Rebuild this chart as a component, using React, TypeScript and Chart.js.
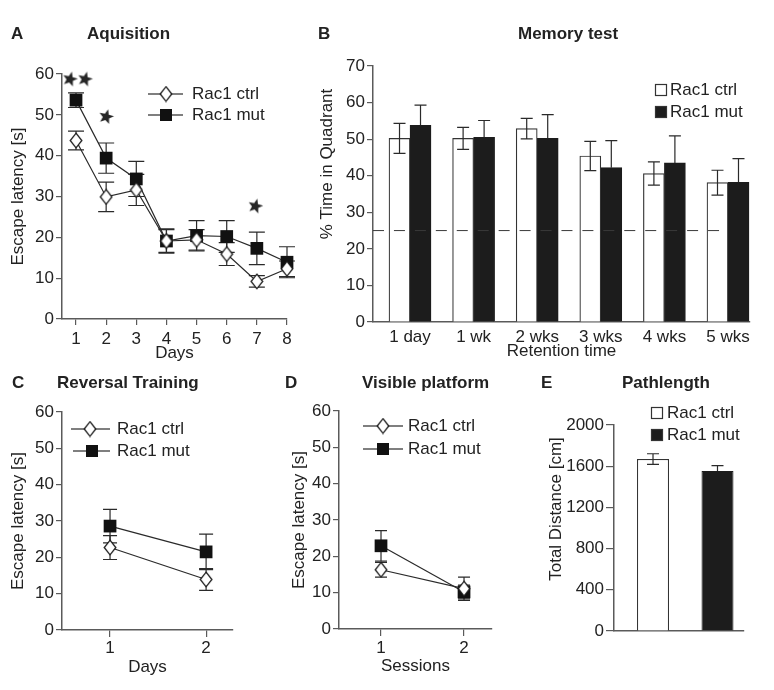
import React, { useEffect, useRef } from 'react';
import { Chart, registerables } from 'chart.js';
Chart.register(...registerables);

const FONT = '"Liberation Sans", Arial, Helvetica, sans-serif';
const INK = '#222';
const AXIS = '#5a5a5a';
const FS = 17;

// ---------------- data ----------------
const seriesNames = ['Rac1 ctrl', 'Rac1 mut'];

// A: Aquisition
const aDays = [1, 2, 3, 4, 5, 6, 7, 8];
const aCtrl = [43.7, 29.9, 31.6, 19.1, 19.4, 15.9, 9.2, 12.3];
const aCtrlErr = [2.3, 3.6, 3.8, 2.8, 2.5, 2.8, 1.4, 1.9];
const aMut = [53.6, 39.4, 34.3, 19.1, 20.4, 20.2, 17.3, 13.9];
const aMutErr = [1.8, 3.7, 4.3, 3.0, 3.7, 3.9, 4.0, 3.8];
const aStarX = [0.8, 1.3, 2, 6.95];
const aStarY = [58.8, 58.8, 49.6, 27.7];
const aYTicks = [0, 10, 20, 30, 40, 50, 60];

// B: Memory test
const bLabels = ['1 day', '1 wk', '2 wks', '3 wks', '4 wks', '5 wks'];
const bCtrl = [50.2, 50.2, 52.9, 45.4, 40.6, 38.1];
const bCtrlErr = [4.1, 3.0, 2.8, 4.0, 3.2, 3.4];
const bMut = [53.8, 50.5, 50.2, 42.2, 43.5, 38.2];
const bMutErr = [5.5, 4.6, 6.5, 7.4, 7.4, 6.5];
const bChance = 25;
const bChanceSpan = [0.418, 5.89];
const bYTicks = [0, 10, 20, 30, 40, 50, 60, 70];

// C: Reversal Training
const cDays = [1, 2];
const cCtrl = [22.7, 13.9];
const cCtrlErr = [3.3, 3.0];
const cMut = [28.6, 21.5];
const cMutErr = [4.6, 4.9];
const cYTicks = [0, 10, 20, 30, 40, 50, 60];

// D: Visible platform
const dSessions = [1, 2];
const dCtrl = [16.3, 11.1];
const dCtrlErr = [2.0, 3.2];
const dMut = [22.9, 10.2];
const dMutErr = [4.2, 1.9];
const dYTicks = [0, 10, 20, 30, 40, 50, 60];

// E: Pathlength
const eValues = [1669, 1553];
const eErr = [52, 52];
const eYTicks = [0, 400, 800, 1200, 1600, 2000];

// ---------------- marker images ----------------
function makeDiamond(): HTMLCanvasElement {
  const c = document.createElement('canvas');
  c.width = 14; c.height = 17;
  const g = c.getContext('2d')!;
  g.beginPath();
  g.moveTo(7, 1.2); g.lineTo(12.8, 8.5); g.lineTo(7, 15.8); g.lineTo(1.2, 8.5); g.closePath();
  g.fillStyle = '#fff'; g.fill();
  g.strokeStyle = '#1a1a1a'; g.lineWidth = 1.3; g.stroke();
  return c;
}
function makeStar(): HTMLCanvasElement {
  const c = document.createElement('canvas');
  c.width = 17; c.height = 17;
  const g = c.getContext('2d')!;
  g.beginPath();
  for (let k = 0; k < 10; k++) {
    const r = k % 2 === 0 ? 7.8 : 3.4;
    const a = -Math.PI / 2 + (k * Math.PI) / 5 + 0.25;
    const px = 8.5 + r * Math.cos(a), py = 8.8 + r * Math.sin(a);
    if (k === 0) g.moveTo(px, py); else g.lineTo(px, py);
  }
  g.closePath();
  g.fillStyle = '#262626'; g.fill();
  return c;
}
const diamondImg = makeDiamond();
const starImg = makeStar();

// ---------------- plugins ----------------
function makeErrorBars(front: boolean) {
  const draw = (chart: any) => {
    const ctx = chart.ctx;
    const ys = chart.scales.y;
    chart.data.datasets.forEach((ds: any, i: number) => {
      if (!ds.errors) return;
      const meta = chart.getDatasetMeta(i);
      ctx.save();
      ctx.strokeStyle = '#2a2a2a';
      ctx.lineWidth = 1.2;
      meta.data.forEach((el: any, j: number) => {
        const v = ds.data[j].y;
        const e = ds.errors[j];
        const x = el.x;
        const yTop = ys.getPixelForValue(v + e);
        const yBot = ds.errUpOnly ? ys.getPixelForValue(v) : ys.getPixelForValue(v - e);
        const cap = ds.errCap || 6;
        ctx.beginPath();
        ctx.moveTo(x, yTop); ctx.lineTo(x, yBot);
        ctx.moveTo(x - cap, yTop); ctx.lineTo(x + cap, yTop);
        if (!ds.errUpOnly) { ctx.moveTo(x - cap, yBot); ctx.lineTo(x + cap, yBot); }
        ctx.stroke();
      });
      ctx.restore();
    });
  };
  return {
    id: 'errorBars',
    beforeDatasetsDraw(chart: any) { if (!front) draw(chart); },
    afterDatasetsDraw(chart: any) { if (front) draw(chart); },
  };
}

type TextItem = { text: string; x: number; y: number; bold?: boolean; rot?: number; align?: CanvasTextAlign; size?: number };
type LegendItem =
  | { kind: 'line'; x1: number; x2: number; y: number; mx: number; marker: 'diamond' | 'square'; tx: number; text: string }
  | { kind: 'box'; bx: number; y: number; fill: string; tx: number; text: string };

function makeDecor(box: Box, texts: TextItem[], legend: LegendItem[]) {
  return {
    id: 'decor',
    afterDraw(chart: any) {
      const ctx = chart.ctx;
      ctx.save();
      ctx.translate(-box.l, -box.t);
      for (const t of texts) {
        ctx.save();
        ctx.font = `${t.bold ? 'bold ' : ''}${t.size || FS}px ${FONT}`;
        ctx.fillStyle = INK;
        ctx.textBaseline = 'middle';
        ctx.textAlign = t.align || 'left';
        ctx.translate(t.x, t.y);
        if (t.rot) ctx.rotate(t.rot);
        ctx.fillText(t.text, 0, 0);
        ctx.restore();
      }
      for (const r of legend) {
        ctx.save();
        if (r.kind === 'line') {
          ctx.strokeStyle = '#555';
          ctx.lineWidth = 1.3;
          ctx.beginPath(); ctx.moveTo(r.x1, r.y); ctx.lineTo(r.x2, r.y); ctx.stroke();
          if (r.marker === 'diamond') {
            ctx.drawImage(diamondImg, r.mx - 7, r.y - 8.5);
          } else {
            ctx.fillStyle = '#111';
            ctx.fillRect(r.mx - 6, r.y - 6, 12, 12);
          }
        } else {
          ctx.fillStyle = r.fill;
          ctx.fillRect(r.bx, r.y - 6, 12, 12);
          ctx.strokeStyle = '#333';
          ctx.lineWidth = 1.2;
          ctx.strokeRect(r.bx + 0.5, r.y - 5.5, 11, 11);
        }
        ctx.font = `${FS}px ${FONT}`;
        ctx.fillStyle = INK;
        ctx.textBaseline = 'middle';
        ctx.textAlign = 'left';
        ctx.fillText(r.text, r.tx, r.y);
        ctx.restore();
      }
      ctx.restore();
    },
  };
}

// ---------------- geometry helpers ----------------
type Box = { l: number; t: number; w: number; h: number };
type Area = { L: number; T: number; R: number; B: number };

const tickFont = { family: FONT, size: FS };
const titleFont = { family: FONT, size: FS };

function yAxis(ticks: number[], opts: { title?: string; titlePad?: number; pad?: number; tickLen?: number }) {
  return {
    type: 'linear',
    min: ticks[0],
    max: ticks[ticks.length - 1],
    afterBuildTicks: (s: any) => { s.ticks = ticks.map((v) => ({ value: v })); },
    ticks: { font: tickFont, color: INK, padding: opts.pad ?? 2, callback: (v: any) => String(v) },
    grid: { drawOnChartArea: false, drawTicks: true, tickLength: opts.tickLen ?? 6, color: AXIS, lineWidth: 1.2 },
    border: { display: true, color: AXIS, width: 1.5 },
    title: opts.title
      ? { display: true, text: opts.title, font: titleFont, color: INK, padding: { top: opts.titlePad ?? 0, bottom: 0 } }
      : { display: false },
  };
}

function xAxis(min: number, max: number, tickVals: number[] | null, labels: string[] | null, opts: { title?: string; titlePad?: number; pad?: number; tickLen?: number; drawTicks?: boolean }) {
  return {
    type: 'linear',
    min, max,
    offset: false,
    afterBuildTicks: (s: any) => { s.ticks = (tickVals || []).map((v) => ({ value: v })); },
    ticks: {
      display: !!tickVals,
      font: tickFont, color: INK, padding: opts.pad ?? 3, maxRotation: 0, autoSkip: false,
      callback: (v: any) => {
        if (!tickVals) return '';
        const i = tickVals.indexOf(v);
        return labels ? labels[i] : String(v);
      },
    },
    grid: { display: true, offset: false, drawOnChartArea: false, drawTicks: opts.drawTicks ?? true, tickLength: opts.tickLen ?? 6, color: AXIS, lineWidth: 1.2 },
    border: { display: true, color: AXIS, width: 1.5 },
    title: opts.title
      ? { display: true, text: opts.title, font: titleFont, color: INK, padding: { top: 0, bottom: opts.titlePad ?? 0 } }
      : { display: false },
  };
}

function frameOptions(box: Box, area: Area, x: any, y: any) {
  return {
    responsive: false,
    animation: false,
    events: [],
    layout: { padding: { left: 0, top: area.T - box.t, right: box.l + box.w - area.R, bottom: 0 } },
    plugins: { legend: { display: false }, tooltip: { enabled: false }, title: { display: false } },
    scales: {
      x: { ...x, afterFit: (s: any) => { s.height = box.t + box.h - area.B; } },
      y: { ...y, afterFit: (s: any) => { s.width = area.L - box.l; } },
    },
  };
}

function lineDs(name: string, xs: number[], ys: number[], errs: number[], mut: boolean, cap: number) {
  return {
    type: 'line',
    label: name,
    data: xs.map((x, i) => ({ x, y: ys[i] })),
    errors: errs,
    errCap: cap,
    borderColor: '#2a2a2a',
    borderWidth: 1.2,
    pointStyle: mut ? 'rect' : diamondImg,
    pointRadius: mut ? 9 : 8,
    pointBackgroundColor: mut ? '#111' : '#fff',
    pointBorderColor: '#111',
    pointBorderWidth: 0,
    clip: false,
    tension: 0,
  };
}

// ---------------- panels ----------------
const boxA: Box = { l: 0, t: 0, w: 300, h: 372 };
const areaA: Area = { L: 62, T: 74, R: 287, B: 319 };
const boxB: Box = { l: 300, t: 0, w: 474, h: 372 };
const areaB: Area = { L: 373, T: 66, R: 750, B: 322 };
const boxC: Box = { l: 0, t: 372, w: 265, h: 318 };
const areaC: Area = { L: 62, T: 412, R: 233, B: 630 };
const boxD: Box = { l: 265, t: 372, w: 255, h: 318 };
const areaD: Area = { L: 339, T: 411, R: 492, B: 629 };
const boxE: Box = { l: 520, t: 372, w: 254, h: 318 };
const areaE: Area = { L: 614, T: 425, R: 744, B: 631 };

function configA() {
  return {
    type: 'line',
    data: {
      datasets: [
        lineDs(seriesNames[0], aDays, aCtrl, aCtrlErr, false, 8),
        lineDs(seriesNames[1], aDays, aMut, aMutErr, true, 8),
        {
          type: 'line', label: 'significant',
          data: aStarX.map((x, i) => ({ x, y: aStarY[i] })),
          showLine: false, pointStyle: starImg, pointRadius: 7, clip: false,
        },
      ],
    },
    options: frameOptions(boxA, areaA,
      xAxis(0.535, 8, aDays, null, { title: 'Days', titlePad: 8, pad: 4, tickLen: 6 }),
      yAxis(aYTicks, { title: 'Escape latency [s]', titlePad: 8 })),
    plugins: [
      makeErrorBars(false),
      makeDecor(boxA, [
        { text: 'A', x: 11, y: 34, bold: true },
        { text: 'Aquisition', x: 87, y: 34, bold: true },
      ], [
        { kind: 'line', x1: 148, x2: 183, y: 94, mx: 166, marker: 'diamond', tx: 192, text: seriesNames[0] },
        { kind: 'line', x1: 148, x2: 183, y: 115, mx: 166, marker: 'square', tx: 192, text: seriesNames[1] },
      ]),
    ],
  };
}

function configB() {
  const pos = bLabels.map((_, i) => i + 1);
  return {
    type: 'bar',
    data: {
      datasets: [
        {
          type: 'bar', label: seriesNames[0],
          data: pos.map((x, i) => ({ x, y: bCtrl[i] })),
          errors: bCtrlErr, errCap: 6,
          backgroundColor: '#fff', borderColor: '#333', borderWidth: 1.2,
          barThickness: 21, order: 1,
        },
        {
          type: 'bar', label: seriesNames[1],
          data: pos.map((x, i) => ({ x, y: bMut[i] })),
          errors: bMutErr, errCap: 6, errUpOnly: true,
          backgroundColor: '#1c1c1c', borderColor: '#1c1c1c', borderWidth: 1,
          barThickness: 21, order: 1,
        },
        {
          type: 'line', label: 'chance',
          data: bChanceSpan.map((x) => ({ x, y: bChance })),
          borderColor: '#3a3a3a', borderWidth: 1, borderDash: [11, 9.94],
          pointRadius: 0, order: 0, clip: false,
        },
      ],
    },
    options: frameOptions(boxB, areaB,
      xAxis(0.418, 6.346, pos, bLabels, { title: 'Retention time', titlePad: 10, pad: 5, drawTicks: false }),
      yAxis(bYTicks, {})),
    plugins: [
      makeErrorBars(true),
      makeDecor(boxB, [
        { text: 'B', x: 318, y: 34, bold: true },
        { text: 'Memory test', x: 518, y: 34, bold: true },
        { text: '% Time in Quadrant', x: 327, y: 164, rot: -Math.PI / 2, align: 'center' },
      ], [
        { kind: 'box', bx: 655, y: 90, fill: '#fff', tx: 670, text: seriesNames[0] },
        { kind: 'box', bx: 655, y: 112, fill: '#1c1c1c', tx: 670, text: seriesNames[1] },
      ]),
    ],
  };
}

function configC() {
  return {
    type: 'line',
    data: {
      datasets: [
        lineDs(seriesNames[0], cDays, cCtrl, cCtrlErr, false, 7),
        lineDs(seriesNames[1], cDays, cMut, cMutErr, true, 7),
      ],
    },
    options: frameOptions(boxC, areaC,
      xAxis(0.5, 2.28, cDays, null, { title: 'Days', titlePad: 12, pad: 1, tickLen: 7 }),
      yAxis(cYTicks, { title: 'Escape latency [s]', titlePad: 8 })),
    plugins: [
      makeErrorBars(false),
      makeDecor(boxC, [
        { text: 'C', x: 12, y: 383, bold: true },
        { text: 'Reversal Training', x: 57, y: 383, bold: true },
      ], [
        { kind: 'line', x1: 71, x2: 110, y: 429, mx: 90, marker: 'diamond', tx: 117, text: seriesNames[0] },
        { kind: 'line', x1: 73, x2: 110, y: 451, mx: 92, marker: 'square', tx: 117, text: seriesNames[1] },
      ]),
    ],
  };
}

function configD() {
  return {
    type: 'line',
    data: {
      datasets: [
        lineDs(seriesNames[0], dSessions, dCtrl, dCtrlErr, false, 6),
        lineDs(seriesNames[1], dSessions, dMut, dMutErr, true, 6),
      ],
    },
    options: frameOptions(boxD, areaD,
      xAxis(0.494, 2.337, dSessions, null, { title: 'Sessions', titlePad: 13, pad: 2, tickLen: 7 }),
      yAxis(dYTicks, { title: 'Escape latency [s]', titlePad: 24 })),
    plugins: [
      makeErrorBars(false),
      makeDecor(boxD, [
        { text: 'D', x: 285, y: 383, bold: true },
        { text: 'Visible platform', x: 362, y: 383, bold: true },
      ], [
        { kind: 'line', x1: 363, x2: 403, y: 426, mx: 383, marker: 'diamond', tx: 408, text: seriesNames[0] },
        { kind: 'line', x1: 363, x2: 403, y: 449, mx: 383, marker: 'square', tx: 408, text: seriesNames[1] },
      ]),
    ],
  };
}

function configE() {
  return {
    type: 'bar',
    data: {
      datasets: [
        {
          type: 'bar', label: seriesNames[0],
          data: [{ x: 1, y: eValues[0] }],
          errors: [eErr[0]], errCap: 6,
          backgroundColor: '#fff', borderColor: '#333', borderWidth: 1.2,
          grouped: false, maxBarThickness: 32,
        },
        {
          type: 'bar', label: seriesNames[1],
          data: [{ x: 2, y: eValues[1] }],
          errors: [eErr[1]], errCap: 6, errUpOnly: true,
          backgroundColor: '#1c1c1c', borderColor: '#1c1c1c', borderWidth: 1,
          grouped: false, maxBarThickness: 32,
        },
      ],
    },
    options: frameOptions(boxE, areaE,
      xAxis(0.395, 2.411, null, null, { drawTicks: false }),
      yAxis(eYTicks, { tickLen: 8, pad: 2 })),
    plugins: [
      makeErrorBars(true),
      makeDecor(boxE, [
        { text: 'E', x: 541, y: 383, bold: true },
        { text: 'Pathlength', x: 622, y: 383, bold: true },
        { text: 'Total Distance [cm]', x: 556, y: 509, rot: -Math.PI / 2, align: 'center' },
      ], [
        { kind: 'box', bx: 651, y: 413, fill: '#fff', tx: 667, text: seriesNames[0] },
        { kind: 'box', bx: 651, y: 435, fill: '#1c1c1c', tx: 667, text: seriesNames[1] },
      ]),
    ],
  };
}

function ChartPanel({ box, make }: { box: Box; make: () => any }) {
  const ref = useRef<HTMLCanvasElement>(null);
  useEffect(() => {
    const chart = new Chart(ref.current as HTMLCanvasElement, make());
    return () => chart.destroy();
  }, []);
  return (
    <div style={{ position: 'absolute', left: box.l, top: box.t, width: box.w, height: box.h }}>
      <canvas ref={ref} width={box.w} height={box.h} style={{ width: box.w, height: box.h, display: 'block' }} />
    </div>
  );
}

export default function App() {
  return (
    <div style={{ position: 'absolute', left: 0, top: 0, width: 774, height: 690, background: '#fff', overflow: 'hidden' }}>
      <ChartPanel box={boxA} make={configA} />
      <ChartPanel box={boxB} make={configB} />
      <ChartPanel box={boxC} make={configC} />
      <ChartPanel box={boxD} make={configD} />
      <ChartPanel box={boxE} make={configE} />
    </div>
  );
}
